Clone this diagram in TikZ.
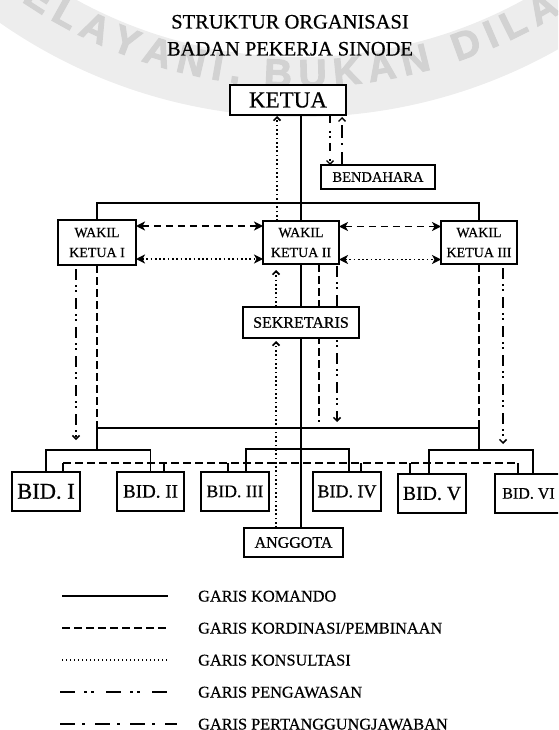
\documentclass[tikz,border=0pt]{standalone}
\usepackage{fontspec}
\setmainfont{Liberation Serif}[FakeBold=0.6]
\newfontfamily\wmfont{Liberation Sans Bold}[FakeBold=2.5]
\usetikzlibrary{arrows.meta,calc}
\definecolor{wmband}{HTML}{EDEDED}
\definecolor{wmtext}{HTML}{D2D2D2}
\def\wmc{,}
\pgfdeclarelayer{wmlayer}
\pgfdeclarelayer{lines}
\pgfsetlayers{wmlayer,lines,main}
\tikzset{
  orgbox/.style={draw, line width=1.6pt, fill=white, align=center, inner sep=0pt, outer sep=0pt},
  komando/.style={line width=1.8pt},
  kordinasi/.style={line width=1.8pt, dash pattern=on 7.5pt off 4.5pt},
  konsultasi/.style={line width=1.7pt, dash pattern=on 1.7pt off 2.6pt},
  pengawasan/.style={line width=1.5pt, dash pattern=on 11pt off 5pt on 2pt off 3pt on 2pt off 6pt},
  pengsmall/.style={line width=1.3pt, dash pattern=on 8pt off 8pt on 2pt off 3pt on 2pt off 5pt},
  tanggung/.style={line width=1.3pt, dash pattern=on 13pt off 7pt on 2pt off 5pt},
  barbtip/.style={-{Straight Barb[length=3.5pt,width=7pt]}},
  twoheads/.style={{Stealth[length=9pt,width=9pt,inset=2.5pt]}-{Stealth[length=9pt,width=9pt,inset=2.5pt]}},
  legtext/.style={anchor=base west, inner sep=0pt, font=\fontsize{16.3}{16.3}\selectfont},
  titletext/.style={anchor=base, inner sep=0pt, font=\fontsize{20.5}{24}\selectfont},
  wm/.style={anchor=base, inner sep=0pt, text=wmtext, font=\wmfont\fontsize{39}{39}\selectfont},
}
\begin{document}
\begin{tikzpicture}[x=1pt,y=-1pt]
\useasboundingbox (0,0) rectangle (558,730);
\clip (0,0) rectangle (558,730);

% watermark
\begin{pgfonlayer}{wmlayer}
\clip (0,0) rectangle (558,730);
\draw[wmband, line width=60pt] (300,-408) circle[radius=495pt];
\foreach \c/\s [count=\i] in {M/-319, E/-283, L/-250.6, A/-217, Y/-182.5, A/-148, N/-112.5, I/-85, \wmc/-66, B/-22.5, U/13, K/48.5, A/84, N/119.5, D/174, I/201.5, L/227, A/261, Y/296}{
  \pgfmathsetmacro\ph{\s/495*57.29578}
  \pgfmathsetmacro\xx{300+495*sin(\ph)}
  \pgfmathsetmacro\yy{-408+495*cos(\ph)}
  \node[wm, rotate=\ph] (wm\i) at (\xx,\yy) {\c};
}
\end{pgfonlayer}

% title
\node[titletext] (title1) at (290,28.5) {STRUKTUR ORGANISASI};
\node[titletext] (title2) at (290,55.5) {BADAN PEKERJA SINODE};

% boxes
\node[orgbox, minimum width=116pt, minimum height=30pt, font=\fontsize{23}{23}\selectfont] (ketua) at (288,100) {KETUA};
\node[orgbox, minimum width=114pt, minimum height=24pt, font=\fontsize{14.5}{14.5}\selectfont] (bend) at (378,177) {BENDAHARA};
\node[orgbox, minimum width=78pt, minimum height=45pt, font=\fontsize{14}{20}\selectfont] (wk1) at (97,242.5) {WAKIL\\KETUA I};
\node[orgbox, minimum width=76pt, minimum height=43pt, font=\fontsize{14}{20}\selectfont] (wk2) at (301,242.5) {WAKIL\\KETUA II};
\node[orgbox, minimum width=76pt, minimum height=43pt, font=\fontsize{14}{20}\selectfont] (wk3) at (479,242.5) {WAKIL\\KETUA III};
\node[orgbox, minimum width=116pt, minimum height=31pt, font=\fontsize{16}{16}\selectfont] (sek) at (301,322.5) {SEKRETARIS};
\node[orgbox, minimum width=99pt, minimum height=29pt, font=\fontsize{16}{16}\selectfont] (ang) at (293.5,542.5) {ANGGOTA};
\node[orgbox, minimum width=68pt, minimum height=39pt, font=\fontsize{22.5}{22.5}\selectfont] (bid1) at (46,491.5) {BID. I};
\node[orgbox, minimum width=67pt, minimum height=39pt, font=\fontsize{19}{19}\selectfont] (bid2) at (150.5,491.5) {BID. II};
\node[orgbox, minimum width=68pt, minimum height=39pt, font=\fontsize{17.7}{17.7}\selectfont] (bid3) at (235,491.5) {BID. III};
\node[orgbox, minimum width=68pt, minimum height=39pt, font=\fontsize{18}{18}\selectfont] (bid4) at (347,491.5) {BID. IV};
\node[orgbox, minimum width=68pt, minimum height=39pt, font=\fontsize{19.8}{19.8}\selectfont] (bid5) at (432,493.5) {BID. V};
\node[orgbox, minimum width=67pt, minimum height=39pt, font=\fontsize{16}{16}\selectfont] (bid6) at (528.5,493.5) {BID. VI};

% connectors
\begin{pgfonlayer}{lines}
\coordinate (topj) at (301,203);
\coordinate (hL) at (97,428);
\coordinate (hR) at (479,428);
\coordinate (b1) at (97,450);
\coordinate (b3) at (301,449);
\coordinate (b5) at (479,450);
\coordinate (dl) at (63,463);
\coordinate (dr) at (518,463);
\coordinate (k2) at (319,422);
\coordinate (p1) at (76,440);
\coordinate (p2) at (337,422);
\coordinate (p3) at (503,444);

% garis komando
\draw[komando] (wk2.north |- ketua.south) -- (wk2.north);
\draw[komando] (wk1.north) |- (topj) -| (wk3.north);
\draw[komando] (wk2.south) -- (sek.north);
\draw[komando] (sek.south) -- (sek.south |- ang.north);
\draw[komando] (hL) -- (hR);
\draw[komando] (hL) -- (b1);
\draw[komando] (hR) -- (b5);
\draw[komando] (bid1.north) |- (b1) -| (bid2.north);
\draw[komando] ([xshift=11pt]bid3.north) |- (b3) -| ([xshift=2pt]bid4.north);
\draw[komando] ([xshift=-3pt]bid5.north) |- (b5) -| ([xshift=4.5pt]bid6.north);

% garis kordinasi
\draw[kordinasi] (wk1.south) -- (hL);
\draw[kordinasi] (wk3.south) -- (hR);
\draw[kordinasi] (wk2.south -| k2) -- (k2);
\draw[kordinasi] (dl) -- (dr);
\foreach \n/\s in {bid1/17, bid2/13.5, bid3/-7, bid4/14, bid5/-22, bid6/-10.5}
  \draw[komando, line width=1.6pt] ([xshift=\s pt]\n.north) -- ([xshift=\s pt]\n.north |- dl);
\draw[kordinasi, twoheads] ([yshift=16.5pt]wk1.east) -- ([yshift=16.5pt]wk2.west);
\draw[kordinasi, twoheads] ([yshift=16pt]wk2.east) -- ([yshift=16pt]wk3.west);

% garis konsultasi
\draw[konsultasi, twoheads] ([yshift=-16.5pt]wk1.east) -- ([yshift=-16.5pt]wk2.west);
\draw[konsultasi, twoheads] ([yshift=-17pt]wk2.east) -- ([yshift=-17pt]wk3.west);
\draw[konsultasi, barbtip, shorten >=1pt] ([xshift=-24pt]wk2.north) -- ([xshift=-24pt]wk2.north |- ketua.south);
\draw[konsultasi, barbtip, shorten >=6pt] ([xshift=-25pt]sek.north) -- ([xshift=-25pt]sek.north |- wk2.south);
\draw[konsultasi, barbtip, shorten >=3pt] ([xshift=-17.5pt]ang.north) -- ([xshift=-17.5pt]ang.north |- sek.south);

% garis pengawasan
\draw[pengawasan, barbtip, shorten <=4pt] ([xshift=-21pt]wk1.south) -- (p1);
\draw[pengawasan, barbtip, shorten <=2pt] (wk2.south -| p2) -- (p2);
\draw[pengawasan, barbtip, shorten <=4pt] (wk3.south -| p3) -- (p3);
\draw[pengsmall, barbtip] ([xshift=42pt]ketua.south) -- ([xshift=42pt]ketua.south |- bend.north);

% garis pertanggungjawaban
\draw[tanggung, barbtip, shorten >=2pt] ([xshift=54pt]ketua.south |- bend.north) -- ([xshift=54pt]ketua.south);
\end{pgfonlayer}

% legend
\coordinate (l1a) at (62,596); \coordinate (l1b) at (168,596);
\coordinate (l2a) at (62,628); \coordinate (l2b) at (168,628);
\coordinate (l3a) at (62,660); \coordinate (l3b) at (168,660);
\coordinate (l4a) at (60,692); \coordinate (l4b) at (168,692);
\coordinate (l5a) at (60,724); \coordinate (l5b) at (177,724);
\draw[komando, line width=2.2pt] (l1a) -- (l1b);
\draw[kordinasi, dash pattern=on 8pt off 4pt] (l2a) -- (l2b);
\draw[line width=1.4pt, dash pattern=on 1.4pt off 2.6pt] (l3a) -- (l3b);
\draw[line width=2pt, dash pattern=on 15pt off 9pt on 3pt off 4pt on 3pt off 12pt] (l4a) -- (l4b);
\draw[line width=2pt, dash pattern=on 15pt off 7pt on 2.5pt off 10.5pt] (l5a) -- (l5b);
\node[legtext] (lt1) at (198,601.5) {GARIS KOMANDO};
\node[legtext] (lt2) at (198,633.5) {GARIS KORDINASI/PEMBINAAN};
\node[legtext] (lt3) at (198,665.5) {GARIS KONSULTASI};
\node[legtext] (lt4) at (198,697.5) {GARIS PENGAWASAN};
\node[legtext] (lt5) at (198,729.5) {GARIS PERTANGGUNGJAWABAN};
\end{tikzpicture}
\end{document}
